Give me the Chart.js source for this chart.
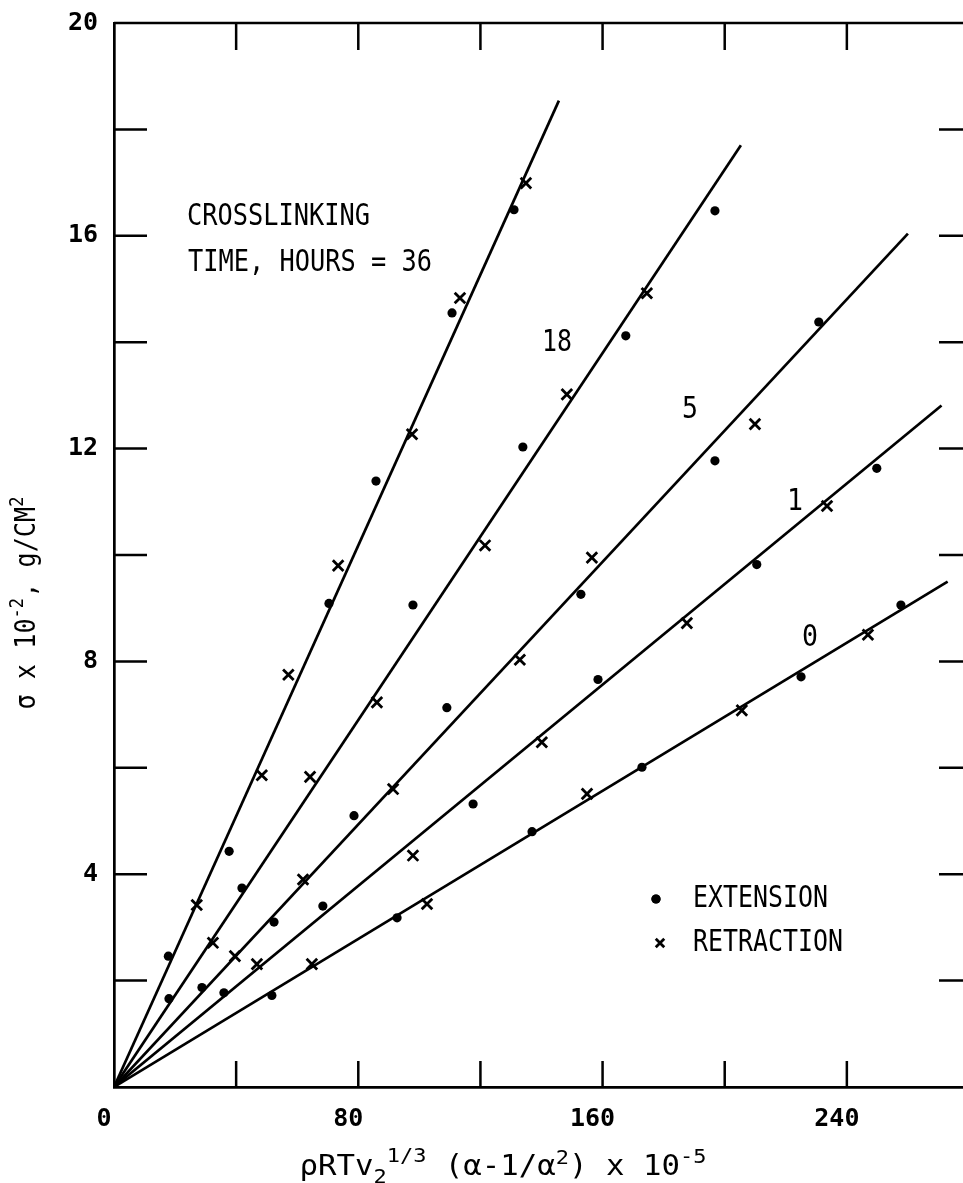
<!DOCTYPE html>
<html><head><meta charset="utf-8">
<script src="https://cdn.jsdelivr.net/npm/chart.js@4.4.0/dist/chart.umd.min.js"></script>
<style>html,body{margin:0;padding:0;background:#fff;overflow:hidden;width:963px;height:1183px}canvas{display:block}</style>
</head><body><canvas id="c" width="980" height="1183"></canvas>
<script>
// ---- data (x = rhoRTv2^(1/3)(alpha-1/alpha^2) x 1e-5, y = sigma x 1e-2 g/cm2) ----
const hours = ['0', '1', '5', '18', '36'];
const ext0  = [[51.7,1.72],[92.7,3.18],[136.9,4.80],[172.9,6.01],[225.0,7.71],[257.7,9.06]];
const ret0  = [[64.8,2.31],[102.5,3.44],[154.9,5.51],[205.6,7.08],[246.9,8.50]];
const ext1  = [[36.0,1.77],[68.4,3.40],[117.6,5.32],[158.5,7.66],[210.5,9.82],[249.8,11.63]];
const ret1  = [[46.8,2.31],[97.9,4.35],[140.1,6.48],[187.6,8.72],[233.5,10.92]];
const ext5  = [[28.8,1.87],[52.4,3.10],[78.6,5.10],[109.0,7.13],[152.9,9.26],[196.8,11.77],[230.8,14.38]];
const ret5  = [[39.6,2.46],[61.9,3.90],[91.4,5.60],[132.9,8.03],[156.5,9.95],[209.9,12.46]];
const ext18 = [[18.0,1.66],[41.9,3.74],[97.9,9.06],[133.9,12.03],[167.6,14.12],[196.8,16.47]];
const ret18 = [[32.4,2.71],[64.2,5.83],[86.1,7.23],[121.5,10.18],[148.3,13.02],[174.5,14.92]];
const ext36 = [[17.8,2.46],[37.7,4.43],[70.4,9.09],[85.8,11.39],[110.7,14.55],[131.0,16.49]];
const ret36 = [[27.1,3.42],[48.4,5.86],[57.1,7.75],[73.4,9.80],[97.6,12.27],[113.3,14.83],[134.9,16.99]];
const fit0  = [[0,0],[273,9.50]];
const fit1  = [[0,0],[271,12.81]];
const fit5  = [[0,0],[260,16.04]];
const fit18 = [[0,0],[205.3,17.70]];
const fit36 = [[0,0],[145.7,18.54]];
const xTickValues  = [40, 80, 120, 160, 200, 240];
const xLabelValues = [0, 80, 160, 240];
const yTickValues  = [2, 4, 6, 8, 10, 12, 14, 16, 18];
const yLabelValues = [4, 8, 12, 16, 20];
const labelLines = ['CROSSLINKING', 'TIME, HOURS = 36'];
const legendLabels = ['EXTENSION', 'RETRACTION'];

const MONO = '"DejaVu Sans Mono", "Liberation Mono", monospace';
const pts = a => a.map(p => ({x: p[0], y: p[1]}));
const datasets = [];
[fit0, fit1, fit5, fit18, fit36].forEach((f, i) => datasets.push({
  label: 'fit ' + hours[i], data: pts(f), showLine: true, borderColor: '#000',
  borderWidth: 2.7, pointRadius: 0, fill: false
}));
[ext0, ext1, ext5, ext18, ext36].forEach((e, i) => datasets.push({
  label: 'extension ' + hours[i], data: pts(e), showLine: false, pointStyle: 'circle',
  pointRadius: 4.6, backgroundColor: '#000', borderColor: '#000', borderWidth: 0
}));
[ret0, ret1, ret5, ret18, ret36].forEach((r, i) => datasets.push({
  label: 'retraction ' + hours[i], data: pts(r), showLine: false, pointStyle: 'crossRot',
  pointRadius: 7.5, backgroundColor: '#000', borderColor: '#000', borderWidth: 2.8
}));

function rich(ctx, segs, x, y, targetW, rot) {
  let total = 0;
  segs.forEach(s => { ctx.font = (s.b ? 'bold ' : '') + s.size + 'px ' + MONO; s.w = ctx.measureText(s.t).width; total += s.w; });
  const sx = targetW ? targetW / total : 1;
  ctx.save(); ctx.translate(x, y); if (rot) ctx.rotate(rot); ctx.scale(sx, 1);
  ctx.textAlign = 'left'; ctx.textBaseline = 'alphabetic'; ctx.fillStyle = '#000';
  let cx = -total / 2;
  segs.forEach(s => { ctx.font = (s.b ? 'bold ' : '') + s.size + 'px ' + MONO; ctx.fillText(s.t, cx, s.dy || 0); cx += s.w; });
  ctx.restore();
}
function textAt(ctx, str, left, cy, size, targetW) {
  ctx.font = size + 'px ' + MONO;
  const w = ctx.measureText(str).width;
  const sx = targetW ? targetW / w : 1;
  ctx.save(); ctx.translate(left, cy); ctx.scale(sx, 1);
  ctx.textAlign = 'left'; ctx.textBaseline = 'middle'; ctx.fillStyle = '#000';
  ctx.fillText(str, 0, 0); ctx.restore();
}

const decor = {
  id: 'decor',
  afterDraw(chart) {
    const {ctx, chartArea: a, scales: {x, y}} = chart;
    ctx.save();
    ctx.strokeStyle = '#000'; ctx.lineWidth = 2.7; ctx.lineCap = 'butt';
    ctx.beginPath();
    ctx.moveTo(a.left, a.top); ctx.lineTo(a.right, a.top);
    ctx.stroke();
    ctx.lineWidth = 2.5;
    ctx.beginPath();
    yTickValues.forEach(v => { const p = y.getPixelForValue(v);
      ctx.moveTo(a.left, p); ctx.lineTo(a.left + 33, p);
      ctx.moveTo(a.right, p); ctx.lineTo(a.right - 30, p); });
    xTickValues.forEach(v => { const p = x.getPixelForValue(v);
      ctx.moveTo(p, a.bottom); ctx.lineTo(p, a.bottom - 26);
      ctx.moveTo(p, a.top); ctx.lineTo(p, a.top + 27); });
    ctx.stroke();
    // annotations
    textAt(ctx, labelLines[0], 187, 217, 30, 183);
    textAt(ctx, labelLines[1], 188, 263, 30, 244);
    textAt(ctx, hours[3], 542, 343, 30, 30);
    textAt(ctx, hours[2], 682, 410, 30, 16);
    textAt(ctx, hours[1], 787, 502, 30, 16);
    textAt(ctx, hours[0], 802, 638, 30, 16);
    // legend
    Chart.helpers.drawPoint(ctx, {pointStyle: 'circle', radius: 4.6, borderWidth: 0}, 656, 899);
    ctx.fillStyle = '#000'; ctx.fill();
    ctx.lineWidth = 2.8;
    Chart.helpers.drawPoint(ctx, {pointStyle: 'crossRot', radius: 6, borderWidth: 2.8}, 660, 943);
    textAt(ctx, legendLabels[0], 693, 899, 30, 135);
    textAt(ctx, legendLabels[1], 693, 943, 30, 150);
    // axis titles
    rich(ctx, [
      {t: 'σ x 10', size: 28}, {t: '-2', size: 19, dy: -12},
      {t: ', g/CM', size: 28}, {t: '2', size: 19, dy: -12}
    ], 35, 603, 213, -Math.PI / 2);
    rich(ctx, [
      {t: 'ρRTv', size: 28}, {t: '2', size: 20, dy: 8}, {t: '1/3', size: 20, dy: -13},
      {t: ' (α-1/α', size: 28}, {t: '2', size: 20, dy: -11},
      {t: ') x 10', size: 28}, {t: '-5', size: 20, dy: -12}
    ], 503, 1175, 407);
    ctx.restore();
  }
};

new Chart(document.getElementById('c'), {
  type: 'scatter',
  data: {datasets},
  options: {
    responsive: false, animation: false, events: [],
    layout: {padding: {top: 16, right: 11, left: 0, bottom: 0}},
    plugins: {legend: {display: false}, tooltip: {enabled: false}},
    scales: {
      x: {
        type: 'linear', min: 0, max: 280,
        afterBuildTicks: s => { s.ticks = xLabelValues.map(v => ({value: v})); },
        afterFit: s => { s.height = 96; },
        grid: {display: false},
        border: {display: true, color: '#000', width: 2.7},
        ticks: {color: '#000', font: {family: MONO, size: 25, weight: 'bold'}, padding: 9,
                labelOffset: -10, maxRotation: 0, autoSkip: false}
      },
      y: {
        type: 'linear', min: 0, max: 20,
        afterBuildTicks: s => { s.ticks = yLabelValues.map(v => ({value: v})); },
        afterFit: s => { s.width = 114; },
        grid: {display: false},
        border: {display: true, color: '#000', width: 2.7},
        ticks: {color: '#000', font: {family: MONO, size: 25, weight: 'bold'}, padding: 8, autoSkip: false}
      }
    }
  },
  plugins: [decor]
});
</script>
</body></html>
